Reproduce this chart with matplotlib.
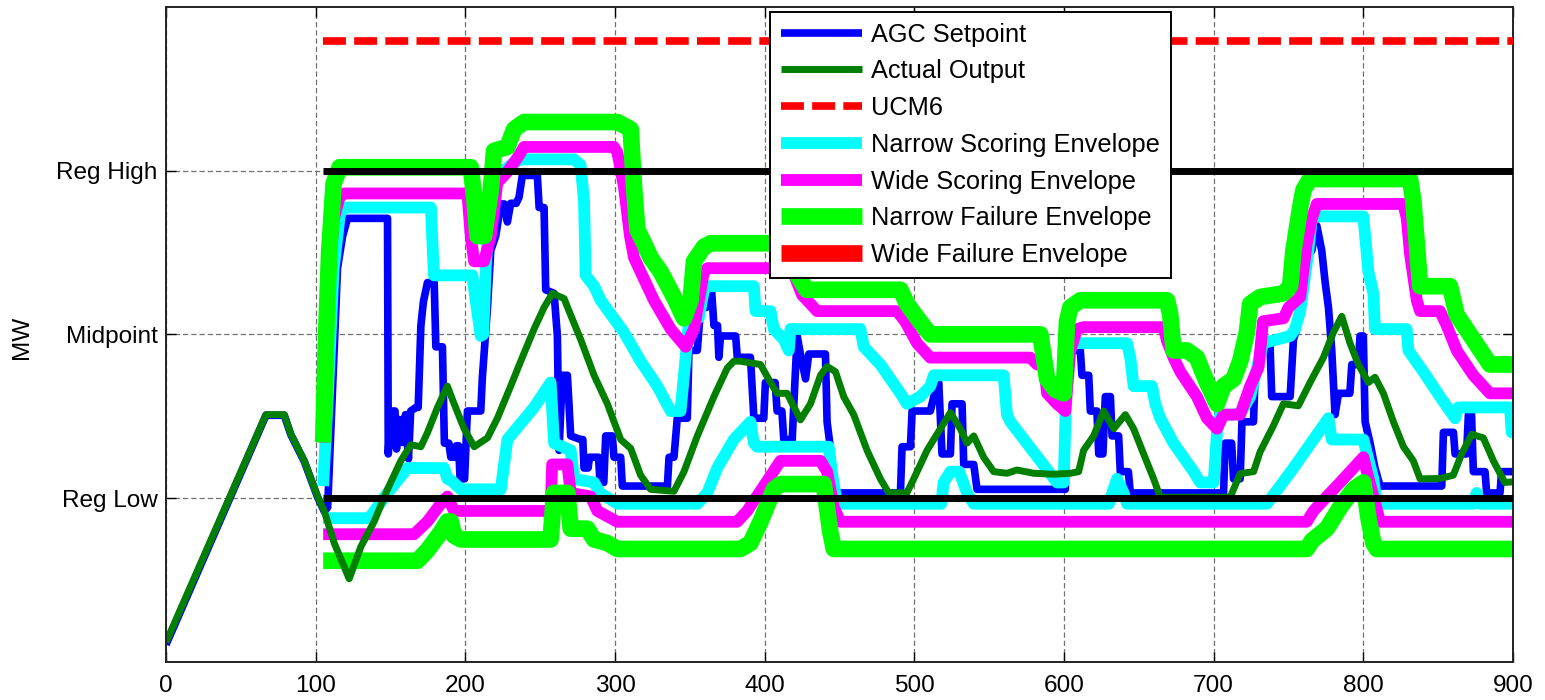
import matplotlib
matplotlib.use("Agg")
import matplotlib.pyplot as plt

plt.rcParams['font.family'] = ['Liberation Sans', 'DejaVu Sans']

# ---------------- data (time in s, MW in chart units: Reg Low=100, Mid=150, Reg High=200)
ytick_vals = [100, 150, 200]
ytick_labels = ['Reg Low', 'Midpoint', 'Reg High']
xtick_vals = [0, 100, 200, 300, 400, 500, 600, 700, 800, 900]

agc_t = [0, 66.8, 79, 83.5, 92.4, 101.3, 105.7, 108, 114.6, 118, 121.3, 148, 148.5, 150, 153, 154, 156,
         158, 160, 162, 163.5, 167, 168.5, 170.3, 172, 174.7, 179.2, 180.3, 184.7, 186, 189, 190.3, 193,
         194, 195.5, 196.5, 199.5, 201.4, 210.3, 211.4, 214.8, 217, 220.3, 223.7, 226, 228.1, 230.3, 234,
         235.9, 238.1, 248.1, 249.3, 252.6, 253.7, 259.3, 261.5, 262.6, 264.8, 268.2, 270.4, 277.1, 278.5,
         279.3, 282, 283, 289, 290, 292.5, 293.8, 298.2, 299.3, 303.8, 304.9, 335, 336.1, 339.4, 341.6,
         348.3, 349.4, 355, 357.2, 361, 362.8, 364.5, 366.1, 368.5, 369.4, 370.5, 380.6, 381.7, 390.5,
         392.8, 399.4, 400.5, 407, 408.3, 411.5, 412.8, 418.4, 419.5, 421.7, 423.9, 427.3, 429.5, 440.6,
         441.7, 446.2, 448, 490.7, 491.8, 497.4, 498.5, 510.7, 513, 516.3, 518.5, 524.1, 525.2, 531.9,
         533, 539.7, 541.9, 600.9, 602, 610.9, 612, 616.5, 617.6, 622, 623.2, 626, 627.6, 631, 632.1,
         636.5, 637.6, 643, 644.3, 706.6, 707.7, 712, 713.3, 717.7, 718.9, 726.6, 727.8, 732.2, 737.7,
         738.8, 751.1, 753.3, 755.5, 758.9, 762.2, 765.6, 768.9, 772.2, 774.5, 776.7, 778.9, 781.1, 783.4,
         791, 792.3, 796.5, 797.8, 800, 801.2, 804.5, 807.8, 811.2, 852.4, 853.5, 860.2, 861.3, 869,
         870.2, 872.3, 873.5, 881.3, 882.4, 891.3, 892.4, 900]
agc_mw = [55.3, 125.3, 125.3, 119.3, 111.2, 100.3, 96, 97.2, 170.2, 180, 185.4, 185.4, 113.5, 126.6, 126.6,
          115, 124, 117, 125.5, 112, 126.6, 127.7, 127.7, 152.7, 160, 165.8, 165.8, 146.2, 146.2, 116.8,
          116.8, 112.5, 112.5, 116, 116, 105.9, 105.9, 126.6, 126.6, 137, 158.2, 175.6, 180, 189.8, 189.8,
          184.3, 190, 190, 191.9, 198.5, 198.5, 188.7, 188.7, 163.6, 162.5, 149.5, 114.6, 137.5, 137.5,
          119, 117.9, 117.9, 109.2, 109.2, 112.5, 112.5, 104.8, 104.8, 119, 119, 112.5, 112.5, 103.7,
          103.7, 112.5, 112.5, 124.4, 124.4, 145.1, 145.1, 158.2, 158.2, 163.6, 163.6, 152.7, 152.7, 143,
          149.5, 149.5, 143, 143, 124.4, 124.4, 135.3, 135.3, 126.6, 126.6, 117.9, 117.9, 128.8, 149.5,
          144, 136.4, 144, 144, 123.3, 107, 101.6, 101.6, 115.7, 115.7, 126.6, 126.6, 131, 135.3, 113.5,
          113.5, 128.8, 128.8, 110.3, 110.3, 102.7, 102.7, 145.1, 145.1, 137.5, 137.5, 126.6, 126.6, 113.5,
          113.5, 131, 131, 119, 119, 108.1, 108.1, 101.6, 101.6, 116.8, 116.8, 105.9, 105.9, 123.3, 123.3,
          138.6, 146.2, 146.2, 131, 131, 148.4, 151.6, 159.3, 173.4, 175.6, 183.2, 175.6, 165.8, 158.2,
          145.1, 125.5, 132, 132, 140.8, 140.8, 149.5, 149.5, 123.3, 116.8, 109.2, 103.7, 103.7, 120.1,
          120.1, 113.5, 113.5, 125.5, 125.5, 108.1, 108.1, 101.6, 101.6, 108.1, 108.1]

actual_t = [0, 66.8, 79, 83.5, 92.4, 101.3, 105.7, 112.4, 122.4, 130.2, 139.1, 148, 156.9, 163.6, 170.3,
            174.7, 181.4, 188, 192.5, 199.2, 205.9, 214.8, 221.4, 230.3, 237, 245.9, 252.6, 258.2, 266,
            269.3, 277.1, 286, 294.9, 303.8, 310.5, 317.1, 323.8, 339.4, 346.1, 355, 366.1, 375, 379.4,
            383.9, 397.2, 403.9, 408.3, 415, 423.9, 430.6, 437.3, 441.7, 447.3, 452.8, 459.5, 468.4, 477.3,
            482.9, 495, 499.6, 508.5, 517.4, 524.1, 530.7, 535.2, 539.7, 546.3, 553, 561.9, 568.6, 579.8,
            593.1, 604.2, 609.8, 613.1, 619.8, 626.5, 633.2, 641, 646.5, 653.2, 659.9, 664.3, 711.1, 717.7,
            726.7, 731, 740, 746.6, 756.6, 764.4, 773.3, 780, 785.6, 791.1, 796.7, 803.4, 807.8, 813.4,
            820.1, 826.8, 833.4, 837.9, 851.2, 860.1, 865.7, 872.4, 880.2, 886.9, 894.5, 900]
actual_mw = [56, 125.5, 125.5, 119.5, 111.4, 100.5, 96.1, 86.3, 75.4, 85.2, 92.9, 102.7, 111.4, 116.3, 115.7,
             120, 127.7, 134.2, 128.8, 121.2, 115.7, 118.4, 124.4, 134.2, 141.8, 151.6, 158.2, 162.5, 160.9,
             157.1, 148.4, 137.5, 128.8, 117.9, 115.2, 107, 102.7, 102.1, 108.1, 119, 131, 139.7, 141.8,
             141.8, 140.8, 135.3, 132, 132, 123.9, 128.8, 137.5, 140.2, 138.6, 131, 125.5, 114.6, 105.9,
             101.6, 101.6, 105.9, 114.6, 121.2, 126.1, 121.2, 116.8, 119, 112.5, 108.1, 107.6, 108.6, 107.6,
             107.3, 107.6, 108.1, 114.6, 119, 126.6, 121.2, 125.5, 121.2, 113.5, 105.9, 100.3, 100.3, 107.5,
             108.1, 114.1, 122.2, 128.8, 128.2, 135.3, 142.9, 150.6, 155.5, 147.3, 140.8, 135.3, 136.9, 132,
             123.3, 115.7, 111.4, 105.9, 106, 107, 113.5, 119.5, 118.4, 111.4, 104.8, 105]

ucm6_t = [105, 900]
ucm6_mw = [239.5, 239.5]

ns_hi_t = [105, 108, 112, 116, 118, 177, 179, 204.7, 207, 210.3, 212, 213.6, 217, 221, 230.3, 237, 272.6,
           277, 279.3, 280.4, 286, 290.4, 306, 317.1, 328.3, 337.2, 343.8, 347.2, 349.4, 356, 359.4, 361.7,
           392.8, 393.9, 403.9, 406.1, 412.8, 416.1, 417.2, 464, 466.2, 477.3, 490.7, 495.1, 504, 510.7, 513,
           559.7, 561.9, 564.2, 595.3, 599.8, 600.9, 602, 608.7, 642.1, 644.3, 646.5, 658.8, 661, 664.3,
           673.2, 686.6, 691, 700, 702.2, 704.4, 713.3, 718, 724.4, 728, 733, 751.1, 754.4, 757.8, 761.1,
           763.3, 765.6, 767, 800, 801.2, 803.4, 806.7, 807.8, 829, 830.1, 840.1, 851.2, 861.3, 863.5, 898,
           899.1, 900]
ns_hi_mw = [103.7, 130, 170, 186, 188.7, 188.7, 168, 168, 160, 149.5, 150, 170.2, 194.1, 198, 201.7, 203.4,
            203.4, 201.7, 190.8, 168, 164.7, 160.4, 150.6, 141.8, 134.2, 126.6, 126.6, 143, 153.8, 155, 163.6,
            164.7, 164.7, 157.1, 157.1, 151.6, 148.4, 145.1, 151.6, 151.6, 146.2, 140.8, 132, 128.8, 131,
            134.2, 137.5, 137.5, 125.5, 123.3, 104.8, 104.8, 123.3, 146.2, 147.3, 147.3, 142.9, 134.2, 134.2,
            128.8, 124.4, 116.8, 108.1, 104.8, 104.8, 120.1, 125.5, 125.5, 126, 131, 138, 147.3, 149.5, 151.6,
            157.1, 168, 175.6, 185.4, 186, 186, 180, 169.1, 162.5, 151.6, 151.6, 145.1, 138.6, 131, 124.4,
            127.7, 127.7, 120.1, 120]
ns_lo_t = [105, 135.8, 148, 161.4, 185.8, 188, 190.3, 197, 223.7, 228.1, 245.9, 257, 259.3, 270.4, 272.6,
           286, 290, 301.6, 355, 361.7, 368.3, 379.4, 390.5, 392.8, 395, 442.8, 445.1, 448.4, 518, 519.6,
           524.1, 530, 535.2, 539.7, 630, 635.4, 639.8, 642.1, 735.6, 744.4, 753.3, 766.7, 776.7, 778.9,
           800, 806.7, 809, 873.5, 875.7, 878, 900]
ns_lo_mw = [93.9, 93.9, 101.6, 109.2, 109.2, 105.9, 105.5, 102.7, 102.7, 117.9, 127.7, 135.3, 116.8, 114.6,
            105.9, 104.8, 101.6, 98.3, 98.3, 101.6, 109.2, 117.9, 123.3, 116.8, 115.7, 115.7, 107, 98.3, 98.3,
            104.8, 108.1, 108.1, 101.6, 98.3, 98.3, 105.9, 101.6, 98.3, 98.3, 103.7, 109.2, 117.9, 124.4,
            117.9, 117.9, 105.9, 98.3, 98.3, 101.6, 98.3, 98.3]

ws_hi_t = [105, 108, 112, 116, 119, 201.4, 203.6, 205.9, 212.5, 217, 221.4, 228.1, 234.8, 239.2, 299.3,
           301.6, 306, 310, 312.7, 317.1, 326, 337.2, 347.2, 352.8, 356.1, 359.4, 361.7, 418, 421.7, 425,
           430.6, 435, 488.5, 494, 501.8, 510.7, 577.5, 582, 586.5, 588.7, 595.3, 600.9, 604.2, 608.7,
           613.1, 666.6, 668.8, 673.2, 677.7, 688.8, 695.5, 702.2, 706.6, 717.7, 724.4, 730, 733, 746.7,
           750, 757.8, 762.2, 765.6, 768.9, 826.8, 829, 831.2, 835.7, 837.9, 851.2, 855.7, 862.4, 873.5,
           884.6, 900]
ws_hi_mw = [117, 160, 185, 192, 193, 193, 180, 172.3, 172.3, 180, 196.3, 199.6, 203.9, 207.2, 207.2, 205.5,
            195, 180, 173.4, 169.1, 160.4, 151.6, 146.2, 151.6, 160.4, 169.1, 170.2, 170.2, 165.8, 162,
            159.3, 157.1, 157.1, 153.8, 147.3, 142.9, 142.9, 140.8, 140.8, 132, 128.8, 126.6, 145.1, 151.6,
            152.2, 152.2, 148, 142.9, 138.6, 131, 124.4, 121.2, 125.5, 125.5, 134.2, 140, 154, 154.9, 158.2,
            161.4, 177.8, 185.4, 189.8, 189.8, 185.4, 174.5, 160.4, 157.1, 157.1, 152.7, 145.1, 137.5, 132,
            132]
ws_lo_t = [105, 165.8, 174.7, 183.6, 188, 192.5, 257, 258, 268.2, 270.4, 283.8, 288.2, 301.6, 381.6, 388.3,
           399.4, 410.6, 437.3, 441.7, 446.2, 450.6, 762.2, 766.7, 775.6, 784.5, 793.4, 800, 802.3, 806.7,
           811.2, 900]
ws_lo_mw = [89, 89, 92.9, 98.3, 100.5, 96.1, 96.1, 110.3, 110.3, 101.6, 100.5, 96.1, 92.8, 92.8, 96.1, 103.7,
            111.4, 111.4, 108.1, 97.2, 92.8, 92.8, 96.1, 100.5, 104.8, 109.2, 112.5, 108.1, 100.5, 92.8, 92.8]

nf_hi_t = [105, 107, 109, 112, 116, 203.6, 205.9, 208.1, 212.5, 217, 219.2, 228.1, 232.6, 239.2, 301.6,
           310.5, 312.7, 314.9, 319.4, 323.8, 330.5, 339.4, 346.1, 350.5, 352.8, 359.4, 363.9, 415, 422,
           428, 490.7, 495.1, 504, 510.7, 584.2, 588.7, 594.2, 599.8, 602, 604.2, 610.9, 668.8, 671, 673.2,
           682.1, 688.8, 695.5, 702.2, 706.6, 713.3, 717.7, 722.2, 724.4, 731.1, 746.6, 751.1, 753.3, 757.8,
           760, 764.4, 831.2, 833.4, 835.7, 837.9, 857.9, 862.4, 873.5, 884.6, 900]
nf_hi_mw = [117, 150, 175, 196, 201, 201, 192, 180, 180, 194, 206, 207.2, 212.6, 214.8, 214.8, 212.6, 195, 182,
            177.8, 173.4, 169.1, 161.4, 154.9, 160.4, 172.3, 176.7, 177.8, 177.8, 168, 163.6, 163.6, 159.3,
            153.8, 150, 150, 136.4, 133.1, 132, 153.8, 158.2, 160.4, 160.4, 156, 145.1, 145.1, 142.9, 135.3,
            128.8, 134.2, 136.4, 141.8, 150.6, 159.3, 161.4, 162.5, 164.7, 175.6, 188.7, 194.1, 197.4, 197.4,
            190.8, 177.8, 164.7, 164.7, 156, 148.4, 140.8, 140.8]
nf_lo_t = [105, 168, 174.7, 183.6, 188, 190.3, 192.5, 197, 257, 259.3, 268.2, 270.4, 281.5, 286, 294.9,
           301.6, 383.9, 390.5, 397.2, 406.1, 410.6, 439.5, 443.9, 446.2, 762.2, 765.6, 775.6, 784.5, 793.4,
           800, 803.4, 806.7, 809, 900]
nf_lo_mw = [80.9, 80.9, 84.1, 89.6, 92.9, 92.9, 88.5, 87.4, 87.4, 101.6, 101.6, 90.7, 90.7, 87.4, 86.3, 84.5,
            84.5, 86.3, 92.8, 102.7, 104.3, 104.3, 89.6, 84.5, 84.5, 87, 90.7, 97.2, 102.7, 104.8, 94, 86.3,
            84.5, 84.5]

wf_t = []
wf_mw = []

reg_t = [105, 900]
reg_high = [200, 200]
reg_low = [100, 100]

# ---------------- figure
fig = plt.figure(figsize=(15.45, 7.0), dpi=100)
ax = fig.add_axes([166 / 1545, 1 - 662 / 700, 1347 / 1545, 655.3 / 700])

kw = dict(solid_joinstyle='round', solid_capstyle='butt')
h_agc, = ax.plot(agc_t, agc_mw, color='#0000FF', lw=5.5, zorder=1.8, label='AGC Setpoint', **kw)
h_ns, = ax.plot(ns_hi_t, ns_hi_mw, color='#00FFFF', lw=8.5, zorder=2.0, label='Narrow Scoring Envelope', **kw)
ax.plot(ns_lo_t, ns_lo_mw, color='#00FFFF', lw=8.5, zorder=2.0, **kw)
h_ws, = ax.plot(ws_hi_t, ws_hi_mw, color='#FF00FF', lw=8.5, zorder=2.1, label='Wide Scoring Envelope', **kw)
ax.plot(ws_lo_t, ws_lo_mw, color='#FF00FF', lw=8.5, zorder=2.1, **kw)
h_nf, = ax.plot(nf_hi_t, nf_hi_mw, color='#00FF00', lw=12, zorder=2.2, label='Narrow Failure Envelope', **kw)
ax.plot(nf_lo_t, nf_lo_mw, color='#00FF00', lw=12, zorder=2.2, **kw)
h_wf, = ax.plot(wf_t, wf_mw, color='#FF0000', lw=12, zorder=2.2, label='Wide Failure Envelope', **kw)
h_act, = ax.plot(actual_t, actual_mw, color='#007F00', lw=5, zorder=2.5, label='Actual Output', **kw)
h_ucm, = ax.plot(ucm6_t, ucm6_mw, color='#FF0000', lw=5.5, zorder=2.6, linestyle=(0, (3.0, 1.08)),
                 label='UCM6')
ax.plot(reg_t, reg_high, color='black', lw=5, zorder=2.7, solid_capstyle='butt')
ax.plot(reg_t, reg_low, color='black', lw=5, zorder=2.7, solid_capstyle='butt')

ax.set_xlim(0, 900)
ax.set_ylim(50, 250)
ax.set_xticks(xtick_vals)
ax.set_xticklabels([str(v) for v in xtick_vals])
ax.set_yticks(ytick_vals)
ax.set_yticklabels(ytick_labels)
ax.tick_params(direction='in', length=7, width=1, labelsize=17.6, top=True, right=True)
ax.tick_params(axis='x', pad=9)
ax.tick_params(axis='y', pad=6)
ax.grid(True, color='#707070', linestyle=(0, (4.2, 2.4)), linewidth=0.9)
ax.set_axisbelow(True)
for s in ax.spines.values():
    s.set_linewidth(1.4)
    s.set_color('#222222')

fig.text(22 / 1545, 1 - 337 / 700, 'MW', rotation=90, ha='center', va='center', fontsize=17.6)

leg = ax.legend([h_agc, h_act, h_ucm, h_ns, h_ws, h_nf, h_wf],
                [h.get_label() for h in [h_agc, h_act, h_ucm, h_ns, h_ws, h_nf, h_wf]],
                loc='upper left', bbox_to_anchor=((770 - 166) / 1347, (662 - 12) / 655.3),
                borderaxespad=0, fontsize=18.3, handlelength=3.2, handletextpad=0.36,
                labelspacing=0.5, borderpad=0.42, fancybox=False, framealpha=1,
                edgecolor='black')
leg.get_frame().set_linewidth(1.4)
leg.set_zorder(10)

fig.savefig('out.png', dpi=100)
